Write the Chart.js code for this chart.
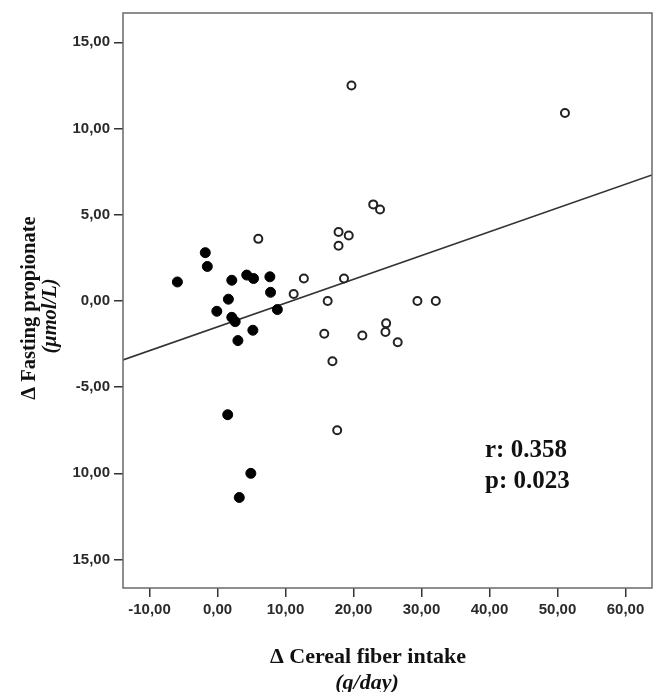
<!DOCTYPE html>
<html>
<head>
<meta charset="utf-8">
<script src="https://cdn.jsdelivr.net/npm/chart.js@4/dist/chart.umd.min.js"></script>
<style>
  html, body { margin: 0; padding: 0; background: #fff; }
  #wrap { width: 661px; height: 692px; position: relative; }
</style>
</head>
<body>
<div id="wrap"><canvas id="scatter"></canvas></div>
<script>
// ── DATA ──────────────────────────────────────────────────────
// filled dots
const filledX = [-5.9, -1.8, -1.5, 2.1, 4.3, 5.3, 7.7, 7.8, 1.6, -0.1, 8.8, 2.1, 2.6, 5.2, 3.0, 1.5, 4.9, 3.2];
const filledY = [1.1, 2.8, 2.0, 1.2, 1.5, 1.3, 1.4, 0.5, 0.1, -0.6, -0.5, -0.95, -1.2, -1.7, -2.3, -6.6, -10.0, -11.4];
// open dots
const openX = [19.7, 51.1, 6.0, 12.7, 11.2, 16.2, 17.8, 19.3, 17.8, 18.6, 22.9, 23.9, 29.4, 32.1, 24.8, 15.7, 21.3, 24.7, 26.5, 16.9, 17.6];
const openY = [12.5, 10.9, 3.6, 1.3, 0.4, 0.0, 4.0, 3.8, 3.2, 1.3, 5.6, 5.3, 0.0, 0.0, -1.3, -1.9, -2.0, -1.8, -2.4, -3.5, -7.5];
// fit line end points
const fitX = [-13.9, 63.9];
const fitY = [-3.42, 7.31];

const xTickValues = [-10, 0, 10, 20, 30, 40, 50, 60];
const xTickLabels = ['-10,00', '0,00', '10,00', '20,00', '30,00', '40,00', '50,00', '60,00'];
const yTickValues = [15, 10, 5, 0, -5, -10, -15];
const yTickLabels = ['15,00', '10,00', '5,00', '0,00', '-5,00', '10,00', '15,00'];

const statLines = ['r: 0.358', 'p: 0.023'];

const toPoints = (xs, ys) => xs.map((x, i) => ({ x, y: ys[i] }));

// ── PLOT BOX + TITLES + STATS ─────────────────────────────────
const SERIF = '"Liberation Serif", "Times New Roman", serif';

const decorPlugin = {
  id: 'decor',
  afterDraw(chart) {
    const { ctx, chartArea: a } = chart;
    ctx.save();
    ctx.strokeStyle = '#6a6a6a';
    ctx.lineWidth = 1.5;
    ctx.strokeRect(a.left, a.top, a.right - a.left, a.bottom - a.top);

    ctx.fillStyle = '#111';
    ctx.textAlign = 'center';
    ctx.textBaseline = 'middle';

    // x title
    ctx.font = 'bold 22px ' + SERIF;
    ctx.fillText('\u0394 Cereal fiber intake', 368, 657);
    ctx.font = 'italic bold 22px ' + SERIF;
    ctx.fillText('(g/day)', 367, 683);

    // y title
    ctx.save();
    ctx.translate(30, 308);
    ctx.rotate(-Math.PI / 2);
    ctx.font = 'bold 20.5px ' + SERIF;
    ctx.fillText('\u0394 Fasting propionate', 0, 0);
    ctx.restore();
    ctx.save();
    ctx.translate(51, 316);
    ctx.rotate(-Math.PI / 2);
    ctx.font = 'italic bold 20.5px ' + SERIF;
    ctx.fillText('(\u03bcmol/L)', 0, 0);
    ctx.restore();

    // stats
    ctx.textAlign = 'left';
    ctx.font = 'bold 25px ' + SERIF;
    ctx.fillText(statLines[0], 485, 451);
    ctx.fillText(statLines[1], 485, 482);
    ctx.restore();
  }
};

const tickFont = { family: '"Liberation Sans", Arial, sans-serif', size: 15, weight: 'bold' };

new Chart(document.getElementById('scatter'), {
  type: 'scatter',
  data: {
    datasets: [
      {
        type: 'line',
        data: toPoints(fitX, fitY),
        borderColor: '#333',
        borderWidth: 1.6,
        pointRadius: 0,
        fill: false,
        order: 3
      },
      {
        data: toPoints(openX, openY),
        backgroundColor: '#fff',
        borderColor: '#222',
        borderWidth: 2,
        pointRadius: 4,
        order: 1
      },
      {
        data: toPoints(filledX, filledY),
        backgroundColor: '#000',
        borderColor: '#000',
        borderWidth: 1,
        pointRadius: 5,
        order: 2
      }
    ]
  },
  options: {
    responsive: true,
    maintainAspectRatio: false,
    animation: false,
    layout: { padding: { top: 10, right: 9, left: 0, bottom: 0 } },
    plugins: { legend: { display: false }, tooltip: { enabled: false } },
    scales: {
      x: {
        type: 'linear',
        min: -13.9,
        max: 63.9,
        afterBuildTicks: s => { s.ticks = xTickValues.map(v => ({ value: v })); },
        afterFit: s => { s.height = 104; },
        ticks: {
          color: '#2a2a2a',
          font: tickFont,
          padding: 4,
          maxRotation: 0,
          callback: v => xTickLabels[xTickValues.indexOf(v)]
        },
        grid: { drawOnChartArea: false, drawTicks: true, tickLength: 9, tickColor: '#333', lineWidth: 1.5 },
        border: { display: false }
      },
      y: {
        type: 'linear',
        min: -16.65,
        max: 16.7,
        afterBuildTicks: s => { s.ticks = yTickValues.map(v => ({ value: v })); },
        afterFit: s => { s.width = 123; },
        ticks: {
          color: '#2a2a2a',
          font: tickFont,
          padding: 4,
          callback: v => yTickLabels[yTickValues.indexOf(v)]
        },
        grid: { drawOnChartArea: false, drawTicks: true, tickLength: 9, tickColor: '#333', lineWidth: 1.5 },
        border: { display: false }
      }
    }
  },
  plugins: [decorPlugin]
});
</script>
</body>
</html>
